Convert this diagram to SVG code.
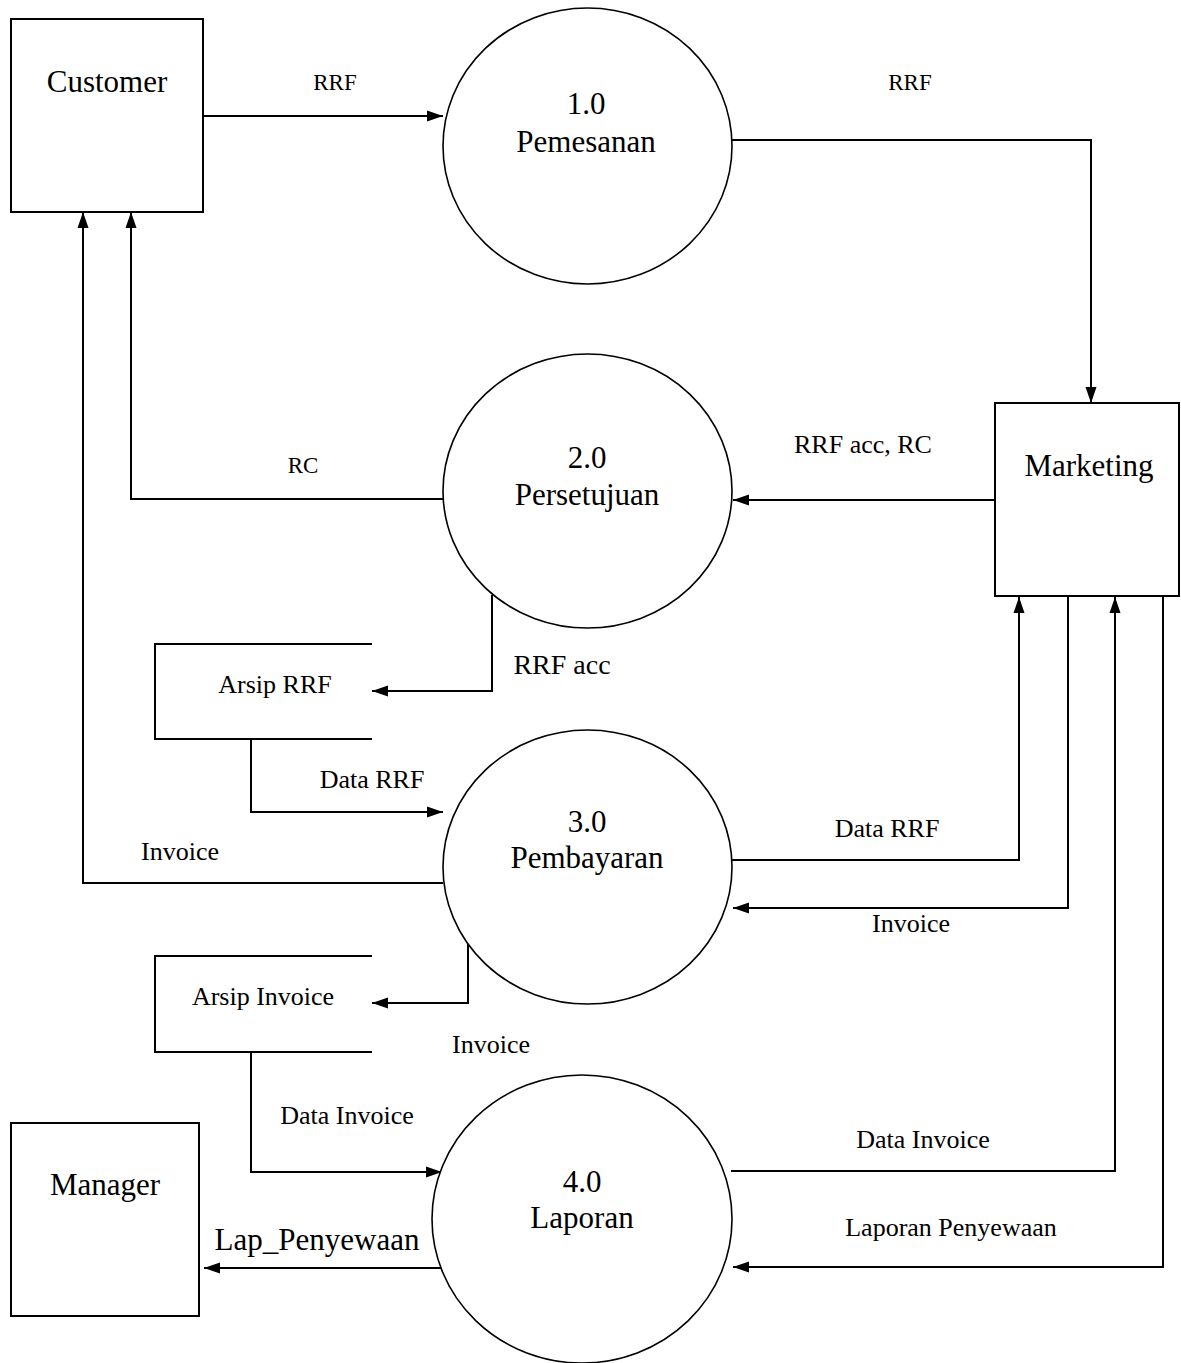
<svg xmlns="http://www.w3.org/2000/svg" width="1181" height="1363" viewBox="0 0 1181 1363">
<style>
.box{fill:#fff;stroke:#000;stroke-width:2}
.proc{fill:#fff;stroke:#000;stroke-width:1.6}
.store{fill:none;stroke:#000;stroke-width:2}
.flow{fill:none;stroke:#000;stroke-width:2}
.arr{marker-end:url(#ah)}
text{font-family:"Liberation Serif","Times New Roman",serif;fill:#000;text-anchor:middle}
.big{font-size:31px}
.lbl{font-size:26px}
.sm{font-size:23px}
</style>
<defs>
<marker id="ah" markerUnits="userSpaceOnUse" markerWidth="17" markerHeight="12" refX="16" refY="6" orient="auto">
<path d="M0,0.5 L16,6 L0,11.5 z" fill="#000"/>
</marker>
</defs>
<rect width="1181" height="1363" fill="#fff"/>

<g id="connectors">
<path class="flow arr" d="M203,116 H443"/>
<path class="flow arr" d="M732,140 H1091 V403"/>
<path class="flow arr" d="M995,500 H733"/>
<path class="flow arr" d="M443,499 H131 V212"/>
<path class="flow arr" d="M443,883 H83 V212"/>
<path class="flow arr" d="M492,595 V691 H372"/>
<path class="flow arr" d="M251,739 V812 H443"/>
<path class="flow arr" d="M468,931 V1003 H372"/>
<path class="flow arr" d="M251,1052 V1172 H442"/>
<path class="flow arr" d="M443,1268 H204"/>
<path class="flow arr" d="M732,860 H1019 V597"/>
<path class="flow arr" d="M1068,597 V908 H733"/>
<path class="flow arr" d="M731,1171 H1115 V597"/>
<path class="flow arr" d="M1163,597 V1267 H733"/>
</g>

<g id="customer">
<rect class="box" x="11" y="19" width="192" height="193"/>
<text class="big" x="107" y="92">Customer</text>
</g>

<g id="marketing">
<rect class="box" x="995" y="403" width="184" height="193"/>
<text class="big" x="1089" y="476">Marketing</text>
</g>

<g id="manager">
<rect class="box" x="11" y="1123" width="188" height="193"/>
<text class="big" x="105" y="1195">Manager</text>
</g>

<g id="p1">
<ellipse class="proc" cx="587.5" cy="146" rx="144.5" ry="138"/>
<text class="big" x="586" y="114">1.0</text>
<text class="big" x="586" y="152">Pemesanan</text>
</g>

<g id="p2">
<ellipse class="proc" cx="587.5" cy="491" rx="144.5" ry="137"/>
<text class="big" x="587" y="468">2.0</text>
<text class="big" x="587" y="505">Persetujuan</text>
</g>

<g id="p3">
<ellipse class="proc" cx="587.5" cy="867" rx="144.5" ry="137"/>
<text class="big" x="587" y="832">3.0</text>
<text class="big" x="587" y="868">Pembayaran</text>
</g>

<g id="p4">
<ellipse class="proc" cx="582" cy="1219" rx="150" ry="144"/>
<text class="big" x="582" y="1192">4.0</text>
<text class="big" x="582" y="1228">Laporan</text>
</g>

<g id="arsip-rrf">
<path class="store" d="M372,644 H155 V739 H372"/>
<text class="lbl" x="275" y="693">Arsip RRF</text>
</g>

<g id="arsip-invoice">
<path class="store" d="M372,956 H155 V1052 H372"/>
<text class="lbl" x="263" y="1005">Arsip Invoice</text>
</g>

<g id="labels">
<text class="sm" x="335" y="90">RRF</text>
<text class="sm" x="910" y="90">RRF</text>
<text class="lbl" x="863" y="453">RRF acc, RC</text>
<text class="sm" x="303" y="473">RC</text>
<text class="big" x="562" y="674" style="font-size:28px">RRF acc</text>
<text class="lbl" x="372" y="788">Data RRF</text>
<text class="lbl" x="180" y="860">Invoice</text>
<text class="lbl" x="887" y="837">Data RRF</text>
<text class="lbl" x="911" y="932">Invoice</text>
<text class="lbl" x="491" y="1053">Invoice</text>
<text class="lbl" x="347" y="1124">Data Invoice</text>
<text class="lbl" x="923" y="1148">Data Invoice</text>
<text class="lbl" x="951" y="1236">Laporan Penyewaan</text>
<text class="big" x="317" y="1250">Lap_Penyewaan</text>
</g>
</svg>
